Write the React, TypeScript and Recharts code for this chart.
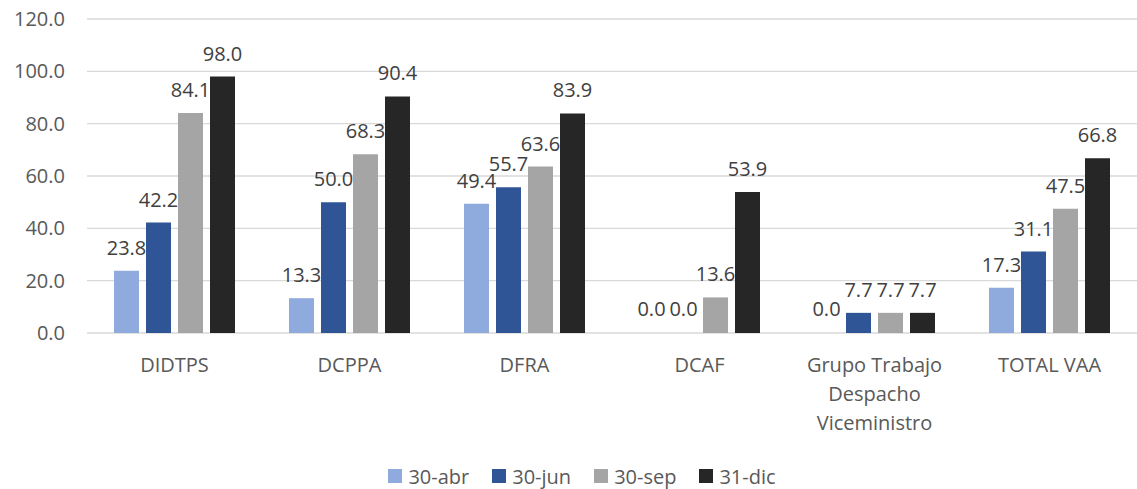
import React from "react";
import { BarChart, Bar, XAxis, YAxis, CartesianGrid, Legend, LabelList, Rectangle } from "recharts";

const categories = ["DIDTPS", "DCPPA", "DFRA", "DCAF", "Grupo Trabajo Despacho Viceministro", "TOTAL VAA"];
const categoryLines: Record<string, string[]> = {
  "Grupo Trabajo Despacho Viceministro": ["Grupo Trabajo", "Despacho", "Viceministro"],
};

const abr = [23.8, 13.3, 49.4, 0.0, 0.0, 17.3];
const jun = [42.2, 50.0, 55.7, 0.0, 7.7, 31.1];
const sep = [84.1, 68.3, 63.6, 13.6, 7.7, 47.5];
const dic = [98.0, 90.4, 83.9, 53.9, 7.7, 66.8];

const yTicks = [0, 20, 40, 60, 80, 100, 120];

const series = [
  { key: "abr", name: "30-abr", color: "#8FAADC" },
  { key: "jun", name: "30-jun", color: "#2F5597" },
  { key: "sep", name: "30-sep", color: "#A5A5A5" },
  { key: "dic", name: "31-dic", color: "#262626" },
];

const data = categories.map((c, i) => ({
  name: c,
  abr: abr[i],
  jun: jun[i],
  sep: sep[i],
  dic: dic[i],
}));

const FONT = "'Open Sans', sans-serif";
const FS = 20;

function CategoryTick({ x, y, payload }: { x?: number; y?: number; payload?: { value: string } }) {
  const value = payload?.value ?? "";
  const lines = categoryLines[value] ?? [value];
  return (
    <text x={x} y={(y ?? 0) + 31} textAnchor="middle" fill="#595959" fontSize={FS} fontFamily={FONT}>
      {lines.map((l, i) => (
        <tspan key={l} x={x} dy={i === 0 ? 0 : 29}>
          {l}
        </tspan>
      ))}
    </text>
  );
}

function LegendBox() {
  return (
    <div
      style={{
        display: "flex",
        justifyContent: "center",
        alignItems: "center",
        height: 40,
        paddingTop: 14,
        paddingLeft: 27,
        boxSizing: "border-box",
        fontFamily: FONT,
        fontSize: FS,
        color: "#595959",
      }}
    >
      {series.map((s, i) => (
        <div
          key={s.key}
          style={{ display: "flex", alignItems: "center", marginRight: i === series.length - 1 ? 0 : 23 }}
        >
          <div style={{ width: 14, height: 14, background: s.color, marginRight: 6 }} />
          <span>{s.name}</span>
        </div>
      ))}
    </div>
  );
}

// zero values still get a label, but no visible bar
function BarShape(props: any) {
  const { dataKey, payload } = props;
  if (!payload || !payload[dataKey]) return <g />;
  return <Rectangle {...props} />;
}

export default function App() {
  return (
    <div style={{ position: "absolute", left: 0, top: 0, width: 1137, height: 489, background: "#fff" }}>
      <BarChart
        width={1137}
        height={489}
        data={data}
        margin={{ top: 19, right: 0, bottom: 0, left: 0 }}
        barSize={25}
        barGap={7}
      >
        <CartesianGrid vertical={false} stroke="#D9D9D9" strokeWidth={1.3} />
        <XAxis
          dataKey="name"
          axisLine={false}
          tickLine={false}
          height={116}
          interval={0}
          tick={<CategoryTick />}
        />
        <YAxis
          domain={[0, 120]}
          ticks={yTicks}
          width={87}
          axisLine={false}
          tickLine={false}
          tickMargin={16}
          tickFormatter={(v: number) => v.toFixed(1)}
          tick={{ fill: "#595959", fontSize: FS, fontFamily: FONT }}
        />
        <Legend verticalAlign="bottom" height={40} content={<LegendBox />} />
        {series.map((s) => (
          <Bar
            key={s.key}
            dataKey={s.key}
            name={s.name}
            fill={s.color}
            minPointSize={1}
            shape={<BarShape dataKey={s.key} />}
            isAnimationActive={false}
          >
            <LabelList
              dataKey={s.key}
              position="top"
              offset={16}
              fill="#404040"
              fontSize={FS}
              fontFamily={FONT}
              formatter={(v: number) => Number(v).toFixed(1)}
            />
          </Bar>
        ))}
      </BarChart>
    </div>
  );
}
